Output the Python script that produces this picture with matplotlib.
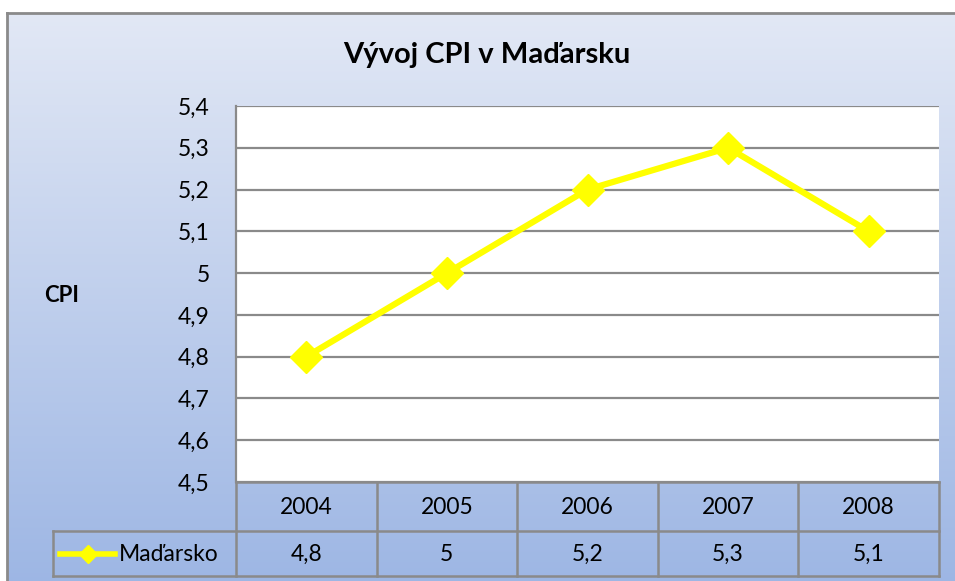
import numpy as np
import matplotlib
matplotlib.use('Agg')
import matplotlib.pyplot as plt
from matplotlib.colors import LinearSegmentedColormap

plt.rcParams['font.family'] = ['Lato', 'DejaVu Sans']

# data
years = ['2004', '2005', '2006', '2007', '2008']
cpi = [4.8, 5.0, 5.2, 5.3, 5.1]
cpi_labels = ['4,8', '5', '5,2', '5,3', '5,1']
series_name = 'Maďarsko'
yticks = [4.5, 4.6, 4.7, 4.8, 4.9, 5.0, 5.1, 5.2, 5.3, 5.4]

W, H = 955, 581
fig = plt.figure(figsize=(W / 100, H / 100), dpi=100)
fig.patch.set_facecolor('white')

def px_axes(x0, y0, x1, y1, **kw):
    # pixel box (top-left origin) -> figure axes
    return fig.add_axes([x0 / W, 1 - y1 / H, (x1 - x0) / W, (y1 - y0) / H], **kw)

# chart background with gradient
bg = px_axes(7, 13, W + 5, H + 5)
cmap = LinearSegmentedColormap.from_list('bg', ['#E2E8F5', '#9DB6E4'])
grad = np.linspace(0, 1, 256).reshape(-1, 1)
bg.imshow(grad, aspect='auto', cmap=cmap, extent=[0, 1, 0, 1], origin='upper')
bg.set_xlim(0, 1)
bg.set_ylim(0, 1)
bg.set_xticks([])
bg.set_yticks([])
for s in ['right', 'bottom']:
    bg.spines[s].set_visible(False)
for s in ['left', 'top']:
    bg.spines[s].set_color('#8A8A8A')
    bg.spines[s].set_linewidth(2)

fig.text(487 / W, 1 - 55 / H, 'Vývoj CPI v Maďarsku', ha='center', va='center',
         fontsize=21, fontweight='bold')
fig.text(62 / W, 1 - 296 / H, 'CPI', ha='center', va='center',
         fontsize=16, fontweight='bold')

# plot area
px0, py0, px1, py1 = 236, 106, 939, 482
ax = px_axes(px0, py0, px1, py1)
ax.set_facecolor('white')
x = np.arange(len(years))
ax.set_xlim(-0.5, len(years) - 0.5)
ax.set_ylim(4.5, 5.4)
ax.set_yticks(yticks)
ax.set_yticklabels([f'{v:.1f}'.replace('.', ',').replace(',0', '') for v in yticks], fontsize=16.5)
ax.set_xticks([])
ax.tick_params(axis='y', length=0, pad=19)
ax.yaxis.grid(True, color='#8A8A8A', linewidth=1.6)
ax.set_axisbelow(True)
for s in ['top', 'right', 'bottom']:
    ax.spines[s].set_visible(False)
ax.spines['left'].set_color('#8A8A8A')
ax.spines['left'].set_linewidth(1.6)
ax.plot(x, cpi, color='#FFFF00', linewidth=4.5, marker='D', markersize=16,
        markerfacecolor='#FFFF00', markeredgecolor='#FFFF00', zorder=3, clip_on=False)

# data table
col_w = (px1 - px0) / len(years)
leg_x0 = 53
tb_y0, tb_mid, tb_y1 = 482, 531, 576
tab = px_axes(leg_x0, tb_y0, px1, tb_y1)
tab.patch.set_alpha(0)
left_edge = -0.5 - (px0 - leg_x0) / col_w
tab.set_xlim(left_edge, len(years) - 0.5)
tab.set_ylim(tb_y1, tb_y0)
tab.axis('off')
lc = '#8A8A8A'
lw = 1.8
# horizontal lines
tab.plot([-0.5, len(years) - 0.5], [tb_y0, tb_y0], color=lc, lw=lw, clip_on=False)
tab.plot([left_edge, len(years) - 0.5], [tb_mid, tb_mid], color=lc, lw=lw, clip_on=False)
tab.plot([left_edge, len(years) - 0.5], [tb_y1, tb_y1], color=lc, lw=lw, clip_on=False)
# vertical lines
tab.plot([left_edge, left_edge], [tb_mid, tb_y1], color=lc, lw=lw, clip_on=False)
for i in range(len(years) + 1):
    tab.plot([i - 0.5, i - 0.5], [tb_y0, tb_y1], color=lc, lw=lw, clip_on=False)
for i, (yr, lab) in enumerate(zip(years, cpi_labels)):
    tab.text(i, (tb_y0 + tb_mid) / 2 + 1, yr, ha='center', va='center', fontsize=16.5)
    tab.text(i, (tb_mid + tb_y1) / 2 + 1, lab, ha='center', va='center', fontsize=16.5)
# legend key in table
ky = (tb_mid + tb_y1) / 2
kx0 = left_edge + (60 - leg_x0) / col_w
kx1 = left_edge + (115 - leg_x0) / col_w
tab.plot([kx0, kx1], [ky, ky], color='#FFFF00', lw=4, clip_on=False)
tab.plot([(kx0 + kx1) / 2], [ky], marker='D', markersize=9, color='#FFFF00', clip_on=False)
tab.text(left_edge + (119 - leg_x0) / col_w, ky + 1, series_name, ha='left', va='center',
         fontsize=16.5)

fig.savefig('out.png', dpi=100)
